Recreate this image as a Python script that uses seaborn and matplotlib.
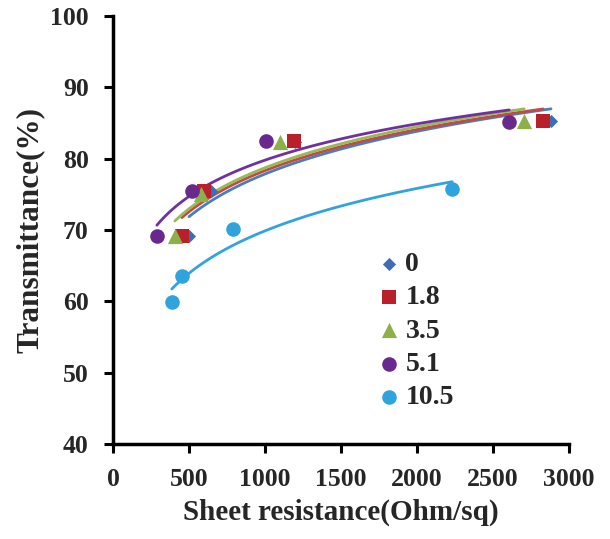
import matplotlib
matplotlib.use('Agg')
import matplotlib.pyplot as plt
import seaborn as sns
import numpy as np
import pandas as pd

# data
labels = ['0', '1.8', '3.5', '5.1', '10.5']
res_0 = [500, 643, 1200, 2882]
tr_0 = [69.2, 75.4, 82.4, 85.3]
res_18 = [453, 598, 1188, 2830]
tr_18 = [69.2, 75.5, 82.5, 85.3]
res_35 = [407, 578, 1097, 2705]
tr_35 = [69.2, 75.0, 82.4, 85.3]
res_51 = [289, 519, 1005, 2607]
tr_51 = [69.2, 75.4, 82.5, 85.2]
res_105 = [387, 453, 788, 2232]
tr_105 = [59.9, 63.6, 70.1, 75.8]

series_x = [res_0, res_18, res_35, res_51, res_105]
series_y = [tr_0, tr_18, tr_35, tr_51, tr_105]
marker_colors = ['#3E6DB5', '#B8202A', '#8DB04A', '#68288E', '#2EA3DD']
line_colors = ['#4A7EBB', '#BE4B48', '#98B954', '#7030A0', '#33A3DC']
markers = ['D', 's', '^', 'o', 'o']
sizes = [45, 110, 120, 110, 110]

sns.set_style('ticks')
plt.rcParams['font.family'] = ['Liberation Serif', 'DejaVu Serif']
plt.rcParams['font.weight'] = 'bold'

fig = plt.figure(figsize=(6.1, 5.39), dpi=100)
ax = fig.add_axes([0.1852, 0.1763, 0.7475, 0.7940])

for lab, xs, ys, mc, lc, mk, sz in zip(labels, series_x, series_y, marker_colors,
                                       line_colors, markers, sizes):
    df = pd.DataFrame({'x': xs, 'y': ys})
    # logarithmic trendline
    sns.regplot(data=df, x='x', y='y', logx=True, ci=None, scatter=False,
                color=lc, line_kws={'linewidth': 2.0, 'zorder': 2}, ax=ax)
    ax.scatter(df['x'], df['y'], marker=mk, s=sz, color=mc, linewidths=0,
               zorder=3, label=lab)

ax.set_xlim(0, 3000)
ax.set_ylim(40, 100)
ax.set_xticks(np.arange(0, 3001, 500))
ax.set_yticks(np.arange(40, 101, 10))
ax.set_xlabel('Sheet resistance(Ohm/sq)', fontsize=21, fontweight='bold', labelpad=5)
ax.set_ylabel('Transmittance(%)', fontsize=22.5, fontweight='bold', labelpad=4)
ax.tick_params(axis='both', labelsize=18.5, width=2.2, length=6.5, direction='out',
               pad=11, color='black')
for t in ax.get_xticklabels() + ax.get_yticklabels():
    t.set_fontweight('bold')
sns.despine(ax=ax)
for side in ['left', 'bottom']:
    ax.spines[side].set_linewidth(2.5)
    ax.spines[side].set_color('black')

leg = ax.legend(loc='upper left', bbox_to_anchor=(0.55, 0.475), frameon=False,
                prop={'family': 'Liberation Serif', 'weight': 'bold', 'size': 20},
                handlelength=1.0, handletextpad=0.1, labelspacing=0.28,
                borderaxespad=0)

fig.savefig('out.png', dpi=100)
